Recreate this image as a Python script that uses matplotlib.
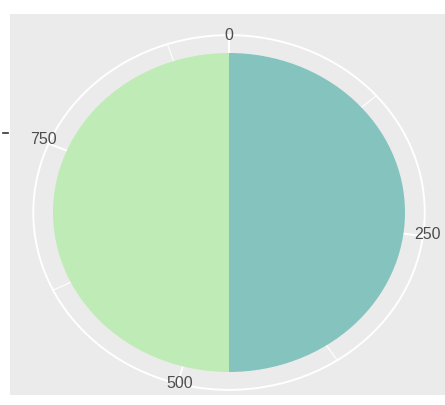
import numpy as np
import matplotlib.pyplot as plt
from matplotlib.patches import Ellipse
from matplotlib.lines import Line2D

# slice values (theta scale runs 0 -> total, clockwise from top)
slice_values = [461, 461]
slice_colors = ['#85C4BE', '#BEEBB6']
major_breaks = [0, 250, 500, 750]
minor_breaks = [125, 375, 625, 875]
break_labels = ['0', '250', '500', '750']

W, H = 445, 405
fig = plt.figure(figsize=(W / 100, H / 100), dpi=100)
fig.patch.set_facecolor('white')

# panel in pixels: x 10..445, y 14..395
ax = fig.add_axes([10 / W, (H - 395) / H, 435 / W, (395 - 14) / H])

total = sum(slice_values)
ax.pie(slice_values, colors=slice_colors, startangle=90, counterclock=False,
       radius=1.0, wedgeprops=dict(linewidth=0, zorder=3))
ax.set_aspect('auto')

# pie centre at (229, 212.5) px, rx=176 px, ry=159.5 px
cx, cy, rx, ry = 229, 212.5, 176, 159.5
ax.set_xlim((10 - cx) / rx, (445 - cx) / rx)
ax.set_ylim((cy - 395) / ry, (cy - 14) / ry)
ax.set_facecolor('#EBEBEB')
ax.set_axis_off()
ax.add_patch(plt.Rectangle((-5, -5), 10, 10, facecolor='#EBEBEB', zorder=0))

outer = 1.112
ax.add_patch(Ellipse((0, 0), 2 * outer, 2 * outer, fill=False,
                     edgecolor='white', linewidth=1.4, zorder=1))


def to_angle(v):
    # clockwise from top
    return v / total * 2 * np.pi


for v in minor_breaks:
    a = to_angle(v)
    ax.plot([0, outer * np.sin(a)], [0, outer * np.cos(a)],
            color='white', linewidth=0.8, zorder=1)
for v in major_breaks:
    a = to_angle(v)
    ax.plot([0, outer * np.sin(a)], [0, outer * np.cos(a)],
            color='white', linewidth=1.4, zorder=1)

lab_r = 1.06
for v, lab in zip(major_breaks, break_labels):
    a = to_angle(v)
    s, c = np.sin(a), np.cos(a)
    ha = 'left' if s > 0.3 else ('right' if s < -0.3 else 'center')
    va = 'bottom' if c > 0.3 else ('top' if c < -0.3 else 'center')
    ax.text(lab_r * s, lab_r * c, lab, ha=ha, va=va, fontsize=11.5,
            color='#4D4D4D', family='Liberation Sans', zorder=4)

# little axis tick left of the panel
fig.add_artist(Line2D([3 / W, 8 / W], [(H - 133) / H, (H - 133) / H],
                      color='#333333', linewidth=1.2))

fig.savefig('out.png', dpi=100)
